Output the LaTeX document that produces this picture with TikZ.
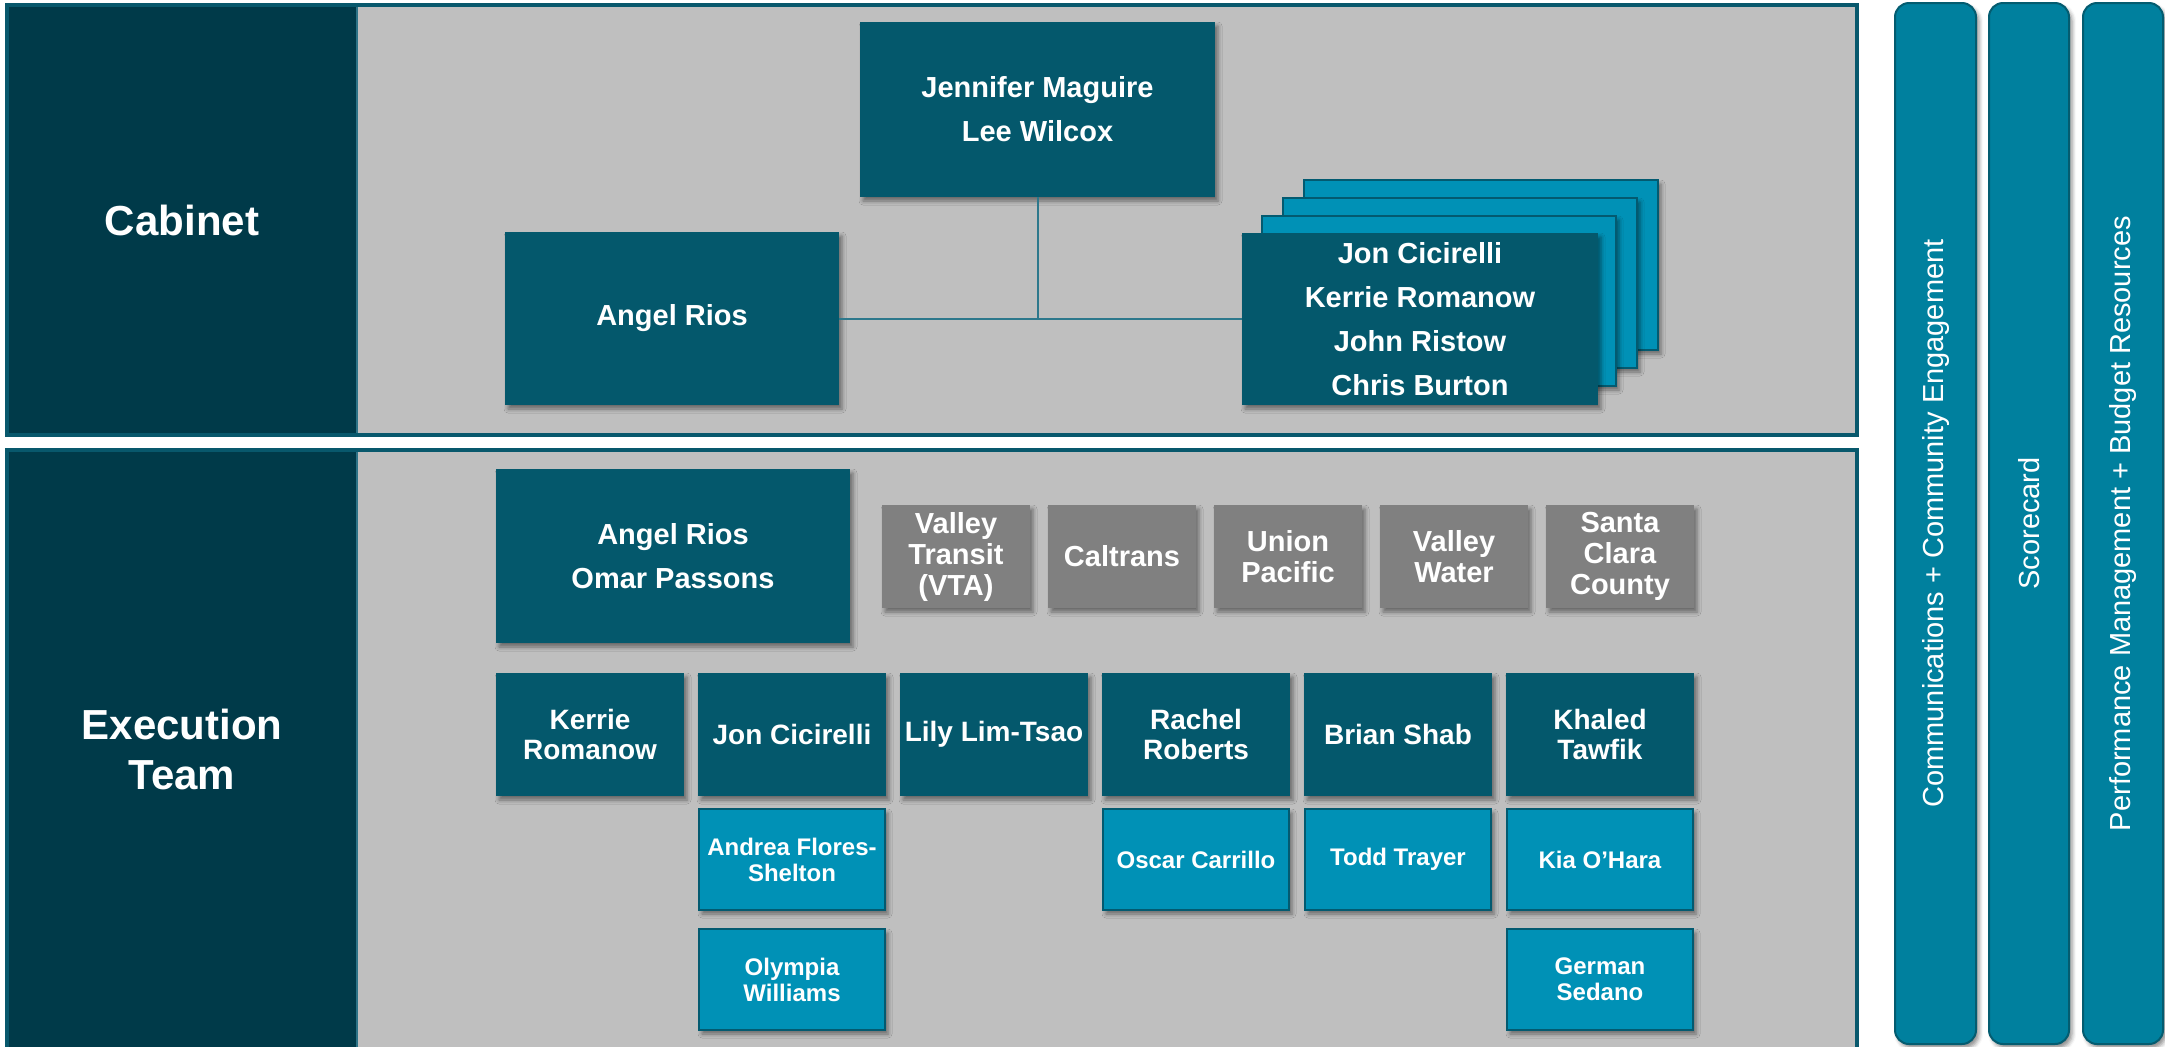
\documentclass[tikz,border=0pt]{standalone}
\usepackage{fontspec}
\setmainfont{Liberation Sans}
\usetikzlibrary{shadows.blur}
\definecolor{labelbg}{RGB}{0,58,73}
\definecolor{boxdark}{RGB}{4,88,108}
\definecolor{boxlight}{RGB}{0,145,182}
\definecolor{boxlightedge}{RGB}{3,90,112}
\definecolor{panelgray}{RGB}{191,191,191}
\definecolor{boxgray}{RGB}{128,128,128}
\definecolor{paneledge}{RGB}{8,88,108}
\definecolor{sepline}{RGB}{45,115,135}
\definecolor{connector}{RGB}{45,120,140}
\definecolor{barfill}{RGB}{0,128,158}
\definecolor{baredge}{RGB}{4,92,112}
\begin{document}
\begin{tikzpicture}[x=0.5pt,y=-0.5pt,
  boxshadow/.style={blur shadow={shadow xshift=1.5pt,shadow yshift=-2pt,shadow blur radius=2pt,shadow opacity=45}},
  basebox/.style={boxshadow, text=white, align=center, inner sep=0pt, outer sep=0pt},
  bigdark/.style={basebox, fill=boxdark, font=\bfseries\fontsize{14.5pt}{22pt}\selectfont},
  rowdark/.style={basebox, fill=boxdark, minimum width=94pt, minimum height=61.5pt, font=\bfseries\fontsize{14pt}{15pt}\selectfont},
  graybox/.style={basebox, fill=boxgray, minimum width=74pt, minimum height=51.5pt, font=\bfseries\fontsize{14.5pt}{15.5pt}\selectfont},
  lightbox/.style={basebox, fill=boxlight, draw=boxlightedge, line width=1.2pt, minimum width=93pt, minimum height=50.5pt, font=\bfseries\fontsize{12pt}{13pt}\selectfont},
  stackback/.style={basebox, fill=boxlight, draw=boxlightedge, line width=1.2pt, minimum width=177pt, minimum height=85pt},
  graypanel/.style={fill=panelgray, inner sep=0pt, outer sep=0pt},
  labelcol/.style={fill=labelbg, text=white, align=center, inner sep=0pt, outer sep=0pt, font=\bfseries\fontsize{21pt}{25pt}\selectfont},
  paneledge/.style={draw=paneledge, line width=1.6pt, inner sep=0pt, outer sep=0pt},
  link/.style={draw=connector, line width=1pt},
  barbox/.style={boxshadow, fill=barfill, draw=baredge, line width=1pt, rounded corners=7pt, inner sep=0pt, outer sep=0pt},
  bartext/.style={text=white, font=\fontsize{14.5pt}{17pt}\selectfont, inner sep=0pt}
]
\useasboundingbox (0,0) rectangle (2165,1046);
\clip (0,0) rectangle (2165,1046);

% ---------- Cabinet panel ----------
\node[graypanel, minimum width=750pt, minimum height=215pt] (cabgray) at (1107,220) {};
\node[labelcol, minimum width=175pt, minimum height=215pt] (cablabel) at (182,220) {Cabinet};
\draw[sepline, line width=1pt] (cablabel.north east) -- (cablabel.south east);
\node[paneledge, minimum width=925pt, minimum height=215pt] (cabframe) at (932,220) {};

% ---------- Execution panel ----------
\node[graypanel, minimum width=750pt, minimum height=310pt] (exegray) at (1107,760) {};
\node[labelcol, minimum width=175pt, minimum height=310pt] (exelabel) at (182,760) {};
\node[text=white, align=center, font=\bfseries\fontsize{21pt}{25pt}\selectfont] (exetext) at (182,749) {Execution\\Team};
\draw[sepline, line width=1pt] (exelabel.north east) -- (exelabel.south east);
\node[paneledge, minimum width=925pt, minimum height=310pt] (exeframe) at (932,760) {};

% ---------- Cabinet boxes ----------
\node[bigdark, minimum width=177.5pt, minimum height=87.5pt] (jm) at (1037.5,109.5) {Jennifer Maguire\\Lee Wilcox};
\node[bigdark, minimum width=167pt, minimum height=86.5pt] (ar1) at (672,318.5) {Angel Rios};
\node[stackback] (s3) at (1481,265) {};
\node[stackback] (s2) at (1460,283) {};
\node[stackback] (s1) at (1439,301) {};
\node[bigdark, minimum width=178pt, minimum height=86pt] (s0) at (1420,319) {Jon Cicirelli\\Kerrie Romanow\\John Ristow\\Chris Burton};
\draw[link] (jm.south) -- (jm.south |- ar1.east);
\draw[link] (ar1.east) -- (ar1.east -| s0.west);

% ---------- Execution boxes ----------
\node[bigdark, minimum width=177pt, minimum height=87pt] (ar2) at (673,556) {Angel Rios\\Omar Passons};
\node[graybox] (vta) at (956,556.5) {Valley\\Transit\\(VTA)};
\node[graybox] (cal) at (1122,556.5) {Caltrans};
\node[graybox] (up) at (1288,556.5) {Union\\Pacific};
\node[graybox] (vw) at (1454,556.5) {Valley\\Water};
\node[graybox] (scc) at (1620,556.5) {Santa\\Clara\\County};

\node[rowdark] (kr) at (590,734.5) {Kerrie\\Romanow};
\node[rowdark] (jc) at (792,734.5) {Jon Cicirelli};
\node[rowdark] (ll) at (994,734.5) {Lily Lim-Tsao};
\node[rowdark] (rr) at (1196,734.5) {Rachel\\Roberts};
\node[rowdark] (bs) at (1398,734.5) {Brian Shab};
\node[rowdark] (kt) at (1600,734.5) {Khaled\\Tawfik};

\node[lightbox] (afs) at (792,859.5) {Andrea Flores-\\Shelton};
\node[lightbox] (oc) at (1196,859.5) {Oscar Carrillo};
\node[lightbox] (tt) at (1398,859.5) {Todd Trayer};
\node[lightbox] (koh) at (1600,859.5) {Kia O’Hara};
\node[lightbox] (ow) at (792,979.5) {Olympia\\Williams};
\node[lightbox] (gs) at (1600,979.5) {German\\Sedano};

% ---------- Vertical bars ----------
\node[barbox, minimum width=40.5pt, minimum height=520.5pt] (b1) at (1935.5,523.5) {};
\node[bartext, rotate=90] (b1t) at (b1.center) {Communications + Community Engagement};
\node[barbox, minimum width=40pt, minimum height=520.5pt] (b2) at (2029,523.5) {};
\node[bartext, rotate=90] (b2t) at (b2.center) {Scorecard};
\node[barbox, minimum width=40pt, minimum height=520.5pt] (b3) at (2123,523.5) {};
\node[bartext, rotate=90] (b3t) at (b3.center) {Performance Management + Budget Resources};
\end{tikzpicture}
\end{document}
